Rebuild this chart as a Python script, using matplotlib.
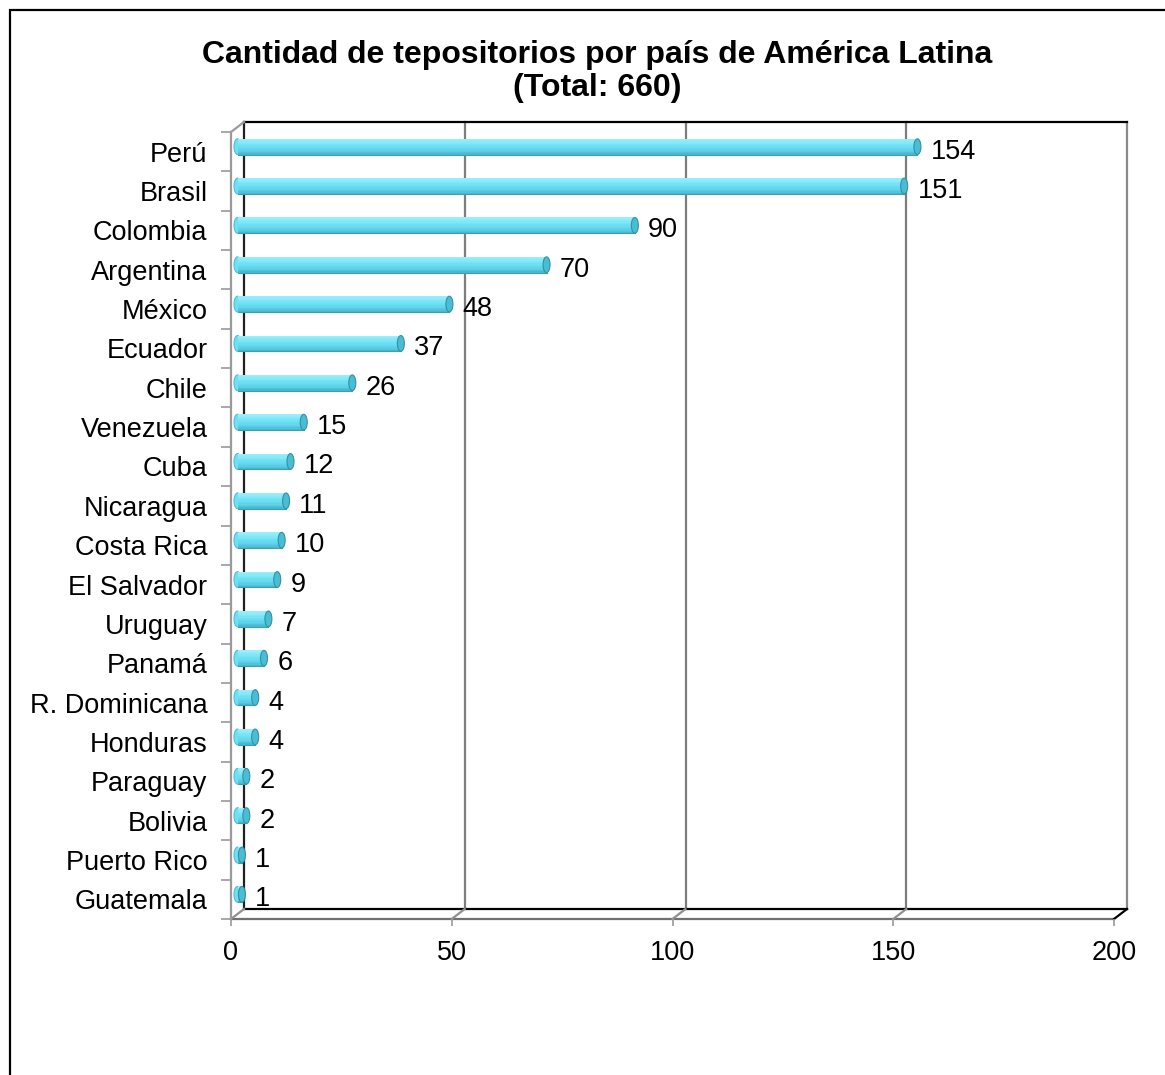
import matplotlib
matplotlib.use('Agg')
import matplotlib.pyplot as plt
from matplotlib import font_manager
from matplotlib.patches import Ellipse, Rectangle
from matplotlib.colors import LinearSegmentedColormap

# Data
paises = ['Perú', 'Brasil', 'Colombia', 'Argentina', 'México', 'Ecuador', 'Chile',
          'Venezuela', 'Cuba', 'Nicaragua', 'Costa Rica', 'El Salvador', 'Uruguay',
          'Panamá', 'R. Dominicana', 'Honduras', 'Paraguay', 'Bolivia',
          'Puerto Rico', 'Guatemala']
cantidad = [154, 151, 90, 70, 48, 37, 26, 15, 12, 11, 10, 9, 7, 6, 4, 4, 2, 2, 1, 1]
x_ticks = [0, 50, 100, 150, 200]
titulo = 'Cantidad de tepositorios por país de América Latina'
subtitulo = '(Total: 660)'

W, H = 1165, 1075
plt.rcParams['font.family'] = ['Liberation Sans', 'DejaVu Sans']

fig = plt.figure(figsize=(W / 100, H / 100), dpi=100)
fig.patch.set_facecolor('white')

# front plane of the 3d box, in pixels
left, right, top, bottom = 231, 1114, 132, 919
ax = fig.add_axes([left / W, 1 - bottom / H, (right - left) / W, (bottom - top) / H])
ax.set_xlim(0, 200)
ax.set_ylim(len(paises) - 0.5, -0.5)
ax.patch.set_visible(False)

# depth offset of the back wall (px -> data)
sx = 200 / (right - left)
sy = len(paises) / (bottom - top)
ddx = 13 * sx
ddy = 10 * sy
y0, y1 = -0.5, len(paises) - 0.5

for s in ax.spines.values():
    s.set_visible(False)

lw = 1.6
# back wall
for xv in x_ticks[1:-1]:
    ax.plot([xv + ddx] * 2, [y0 - ddy, y1 - ddy], color='#7d7d7d', lw=lw, zorder=1, clip_on=False)
ax.plot([200 + ddx] * 2, [y0 - ddy, y1 - ddy], color='#8a8a8a', lw=lw, zorder=1, clip_on=False)
ax.plot([ddx, 200 + ddx], [y0 - ddy] * 2, color='black', lw=lw, zorder=1, clip_on=False)
ax.plot([ddx, 200 + ddx], [y1 - ddy] * 2, color='black', lw=lw, zorder=1, clip_on=False)
ax.plot([ddx] * 2, [y0 - ddy, y1 - ddy], color='#202020', lw=lw, zorder=1, clip_on=False)

# floor and front side
ax.plot([0, 200], [y1, y1], color='#707070', lw=lw, zorder=1, clip_on=False)
for xv in x_ticks:
    c = 'black' if xv == 200 else '#909090'
    ax.plot([xv, xv + ddx], [y1, y1 - ddy], color=c, lw=lw, zorder=1, clip_on=False)
ax.plot([0, 0], [y0, y1], color='#9a9a9a', lw=lw, zorder=1, clip_on=False)
ax.plot([0, ddx], [y0, y0 - ddy], color='#9a9a9a', lw=lw, zorder=1, clip_on=False)

# ticks
ax.set_yticks(range(len(paises)))
ax.set_yticklabels(paises, fontsize=19.5)
ax.set_yticks([i - 0.5 for i in range(len(paises) + 1)], minor=True)
ax.tick_params(axis='y', which='major', length=0, pad=17)
ax.tick_params(axis='y', which='minor', length=7, width=1.2, color='#9a9a9a', direction='out')
ax.set_xticks(x_ticks)
ax.set_xticklabels([str(v) for v in x_ticks], fontsize=19.5)
ax.tick_params(axis='x', length=5, width=1.2, color='#9a9a9a', pad=10)

# cylinders
shades = LinearSegmentedColormap.from_list(
    'cyl', ['#9aeefb', '#86e9f9', '#72e2f5', '#66dbf0', '#5acfe6', '#49b8cf'])
h = 0.40
n = 12
cap_w = 7 * sx
for i, v in enumerate(cantidad):
    yc = i - ddy / 2
    x0 = ddx / 2
    ax.add_patch(Ellipse((x0, yc), cap_w, h, facecolor='#6fdff2', edgecolor='#52bfd4',
                         lw=0.8, zorder=3))
    for k in range(n):
        yk = yc - h / 2 + (k + 0.5) * h / n
        ax.barh(yk, v, left=x0, height=h / n * 1.05, color=shades(k / (n - 1)),
                lw=0, zorder=4)
    ax.plot([x0, x0 + v], [yc + h / 2] * 2, color='#3f9fb2', lw=0.8, zorder=4.5)
    ax.add_patch(Ellipse((x0 + v, yc), cap_w, h, facecolor='#4bbcd2', edgecolor='#2f93a6',
                         lw=0.8, zorder=5))
    ax.annotate(str(v), (x0 + v + cap_w / 2, i), xytext=(7, 0),
                textcoords='offset points', ha='left', va='center', fontsize=19.5,
                zorder=6, annotation_clip=False)

# title
names = {f.name for f in font_manager.fontManager.ttflist}
if 'Liberation Sans Narrow' in names:
    tfam, tsize = 'Liberation Sans Narrow', 28
else:
    tfam, tsize = 'Liberation Sans', 23
fig.text(597 / W, 1 - 63 / H, titulo, ha='center', va='baseline', fontsize=tsize,
         fontweight='bold', family=tfam)
fig.text(597 / W, 1 - 96 / H, subtitulo, ha='center', va='baseline', fontsize=tsize,
         fontweight='bold', family=tfam)

# outer frame
fig.patches.append(Rectangle((10 / W, -0.1), 1.2, 1.1 - 10 / H, transform=fig.transFigure,
                             fill=False, edgecolor='black', lw=1.6))

fig.savefig('out.png', dpi=100)
